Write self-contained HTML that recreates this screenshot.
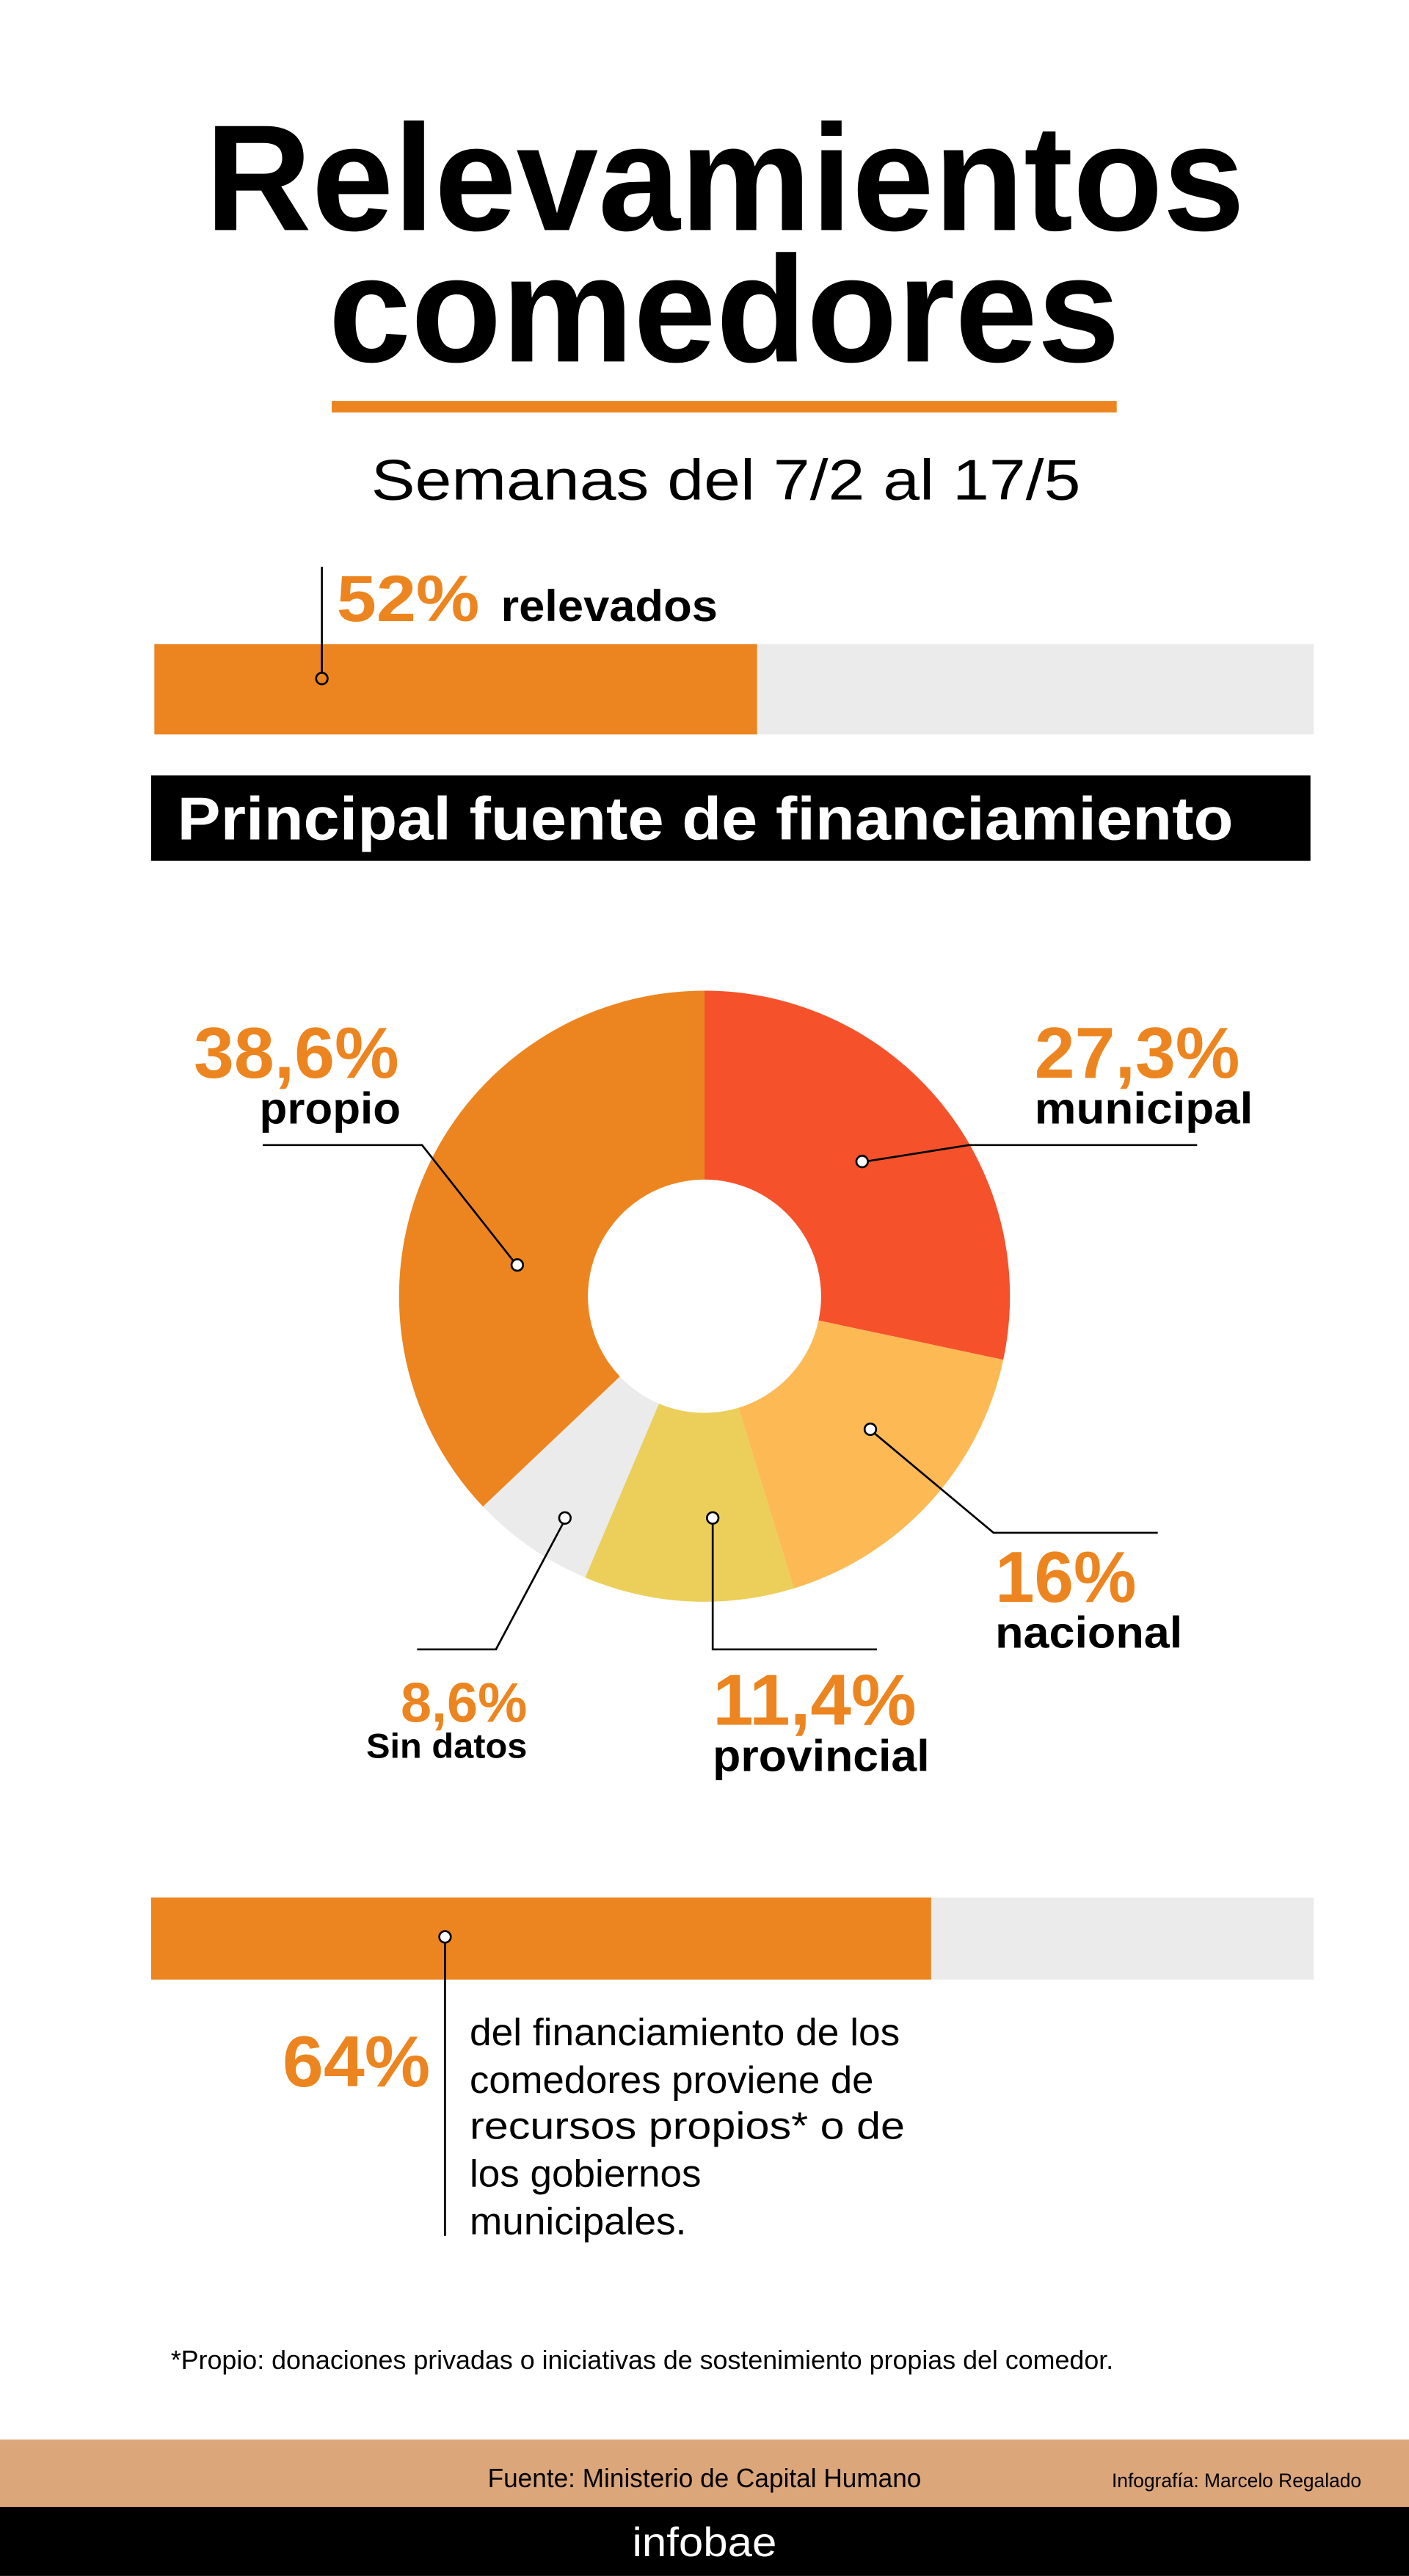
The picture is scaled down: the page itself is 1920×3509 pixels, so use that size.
<!DOCTYPE html>
<html><head><meta charset="utf-8"><style>
html,body{margin:0;padding:0;background:#fff}
svg{display:block}
text{font-family:"Liberation Sans",sans-serif}
.b{font-weight:bold}
.o{fill:#EC8520}
</style></head><body>
<svg width="1920" height="3509" viewBox="0 0 858 1568" xmlns="http://www.w3.org/2000/svg">
<rect width="858" height="1568" fill="#fff"/>
<text x="125" y="140" class="b" font-size="92" textLength="633" lengthAdjust="spacingAndGlyphs">Relevamientos</text>
<text x="200" y="220" class="b" font-size="92" textLength="482" lengthAdjust="spacingAndGlyphs">comedores</text>
<rect x="202" y="244" width="478" height="7" fill="#EC8520"/>
<text x="226" y="304" font-size="35" textLength="432" lengthAdjust="spacingAndGlyphs">Semanas del 7/2 al 17/5</text>

<rect x="94" y="392" width="706" height="55" fill="#EBEBEB"/>
<rect x="94" y="392" width="367" height="55" fill="#EC8520"/>
<line x1="196" y1="345" x2="196" y2="410" stroke="#000" stroke-width="1.2"/>
<circle cx="196" cy="413" r="3.5" fill="none" stroke="#000" stroke-width="1.2"/>
<text x="205" y="378" class="b o" font-size="40" textLength="87" lengthAdjust="spacingAndGlyphs">52%</text>
<text x="305" y="378" class="b" font-size="27" textLength="132" lengthAdjust="spacingAndGlyphs">relevados</text>

<rect x="92" y="472" width="706" height="52" fill="#000"/>
<text x="108" y="511" class="b" font-size="37" fill="#fff" textLength="643" lengthAdjust="spacingAndGlyphs">Principal fuente de financiamiento</text>

<g id="donut"></g>

<g fill="none" stroke="#000" stroke-width="1.2">
<polyline points="160,697 257,697 313,768"/>
<polyline points="527,707 590,697 729,697"/>
<polyline points="532,872 605,933 705,933"/>
<polyline points="434,927 434,1004 534,1004"/>
<polyline points="343,927 302,1004 254,1004"/>
</g>
<g fill="#fff" stroke="#000" stroke-width="1.2">
<circle cx="315" cy="770" r="3.5"/>
<circle cx="525" cy="707" r="3.5"/>
<circle cx="530" cy="870" r="3.5"/>
<circle cx="434" cy="924" r="3.5"/>
<circle cx="344" cy="924" r="3.5"/>
</g>
<text x="118" y="656" class="b o" font-size="44" textLength="125" lengthAdjust="spacingAndGlyphs">38,6%</text>
<text x="158" y="684" class="b" font-size="27" textLength="86" lengthAdjust="spacingAndGlyphs">propio</text>
<text x="630" y="656" class="b o" font-size="44" textLength="125" lengthAdjust="spacingAndGlyphs">27,3%</text>
<text x="630" y="684" class="b" font-size="27" textLength="133" lengthAdjust="spacingAndGlyphs">municipal</text>
<text x="606" y="975" class="b o" font-size="44" textLength="86" lengthAdjust="spacingAndGlyphs">16%</text>
<text x="606" y="1003" class="b" font-size="27" textLength="114" lengthAdjust="spacingAndGlyphs">nacional</text>
<text x="434" y="1050" class="b o" font-size="44" textLength="124" lengthAdjust="spacingAndGlyphs">11,4%</text>
<text x="434" y="1078" class="b" font-size="27" textLength="132" lengthAdjust="spacingAndGlyphs">provincial</text>
<text x="244" y="1048" class="b o" font-size="34" textLength="77" lengthAdjust="spacingAndGlyphs">8,6%</text>
<text x="223" y="1070" class="b" font-size="21" textLength="98" lengthAdjust="spacingAndGlyphs">Sin datos</text>

<rect x="92" y="1155" width="708" height="50" fill="#EBEBEB"/>
<rect x="92" y="1155" width="475" height="50" fill="#EC8520"/>
<line x1="271" y1="1182" x2="271" y2="1361" stroke="#000" stroke-width="1.2"/>
<circle cx="271" cy="1179" r="3.5" fill="#fff" stroke="#000" stroke-width="1.2"/>
<text x="172" y="1270" class="b o" font-size="44" textLength="90" lengthAdjust="spacingAndGlyphs">64%</text>
<g font-size="23">
<text x="286" y="1245" textLength="262" lengthAdjust="spacingAndGlyphs">del financiamiento de los</text>
<text x="286" y="1274" textLength="246" lengthAdjust="spacingAndGlyphs">comedores proviene de</text>
<text x="286" y="1302" textLength="265" lengthAdjust="spacingAndGlyphs">recursos propios* o de</text>
<text x="286" y="1331" textLength="141" lengthAdjust="spacingAndGlyphs">los gobiernos</text>
<text x="286" y="1360" textLength="132" lengthAdjust="spacingAndGlyphs">municipales.</text>
</g>
<text x="104" y="1442" font-size="16" textLength="574" lengthAdjust="spacingAndGlyphs">*Propio: donaciones privadas o iniciativas de sostenimiento propias del comedor.</text>

<rect x="0" y="1485" width="858" height="41" fill="#DCA67B"/>
<text x="297" y="1514" font-size="16" textLength="264" lengthAdjust="spacingAndGlyphs">Fuente: Ministerio de Capital Humano</text>
<text x="677" y="1514" font-size="12" textLength="152" lengthAdjust="spacingAndGlyphs">Infografía: Marcelo Regalado</text>
<rect x="0" y="1526" width="858" height="42" fill="#000"/>
<text x="429" y="1556" font-size="25" fill="#fff" text-anchor="middle" textLength="88" lengthAdjust="spacingAndGlyphs">infobae</text>
</svg>
<script>
(function(){
var cx=429,cy=789,R=186,r=71;
var segs=[[0,102,"#F5522B"],[102,163,"#FDB954"],[163,203,"#EBCF5A"],[203,226.5,"#EBEBEB"],[226.5,360,"#EC8520"]];
function p(a,rad){var t=(a-90)*Math.PI/180;return [cx+rad*Math.cos(t),cy+rad*Math.sin(t)];}
var g=document.getElementById("donut"),s="";
segs.forEach(function(q){var a=q[0],b=q[1],l=(b-a)>180?1:0;
var p1=p(a,R),p2=p(b,R),p3=p(b,r),p4=p(a,r);
s+='<path fill="'+q[2]+'" d="M'+p1+' A'+R+','+R+' 0 '+l+' 1 '+p2+' L'+p3+' A'+r+','+r+' 0 '+l+' 0 '+p4+' Z"/>';});
g.innerHTML=s;
})();
</script>
</body></html>
